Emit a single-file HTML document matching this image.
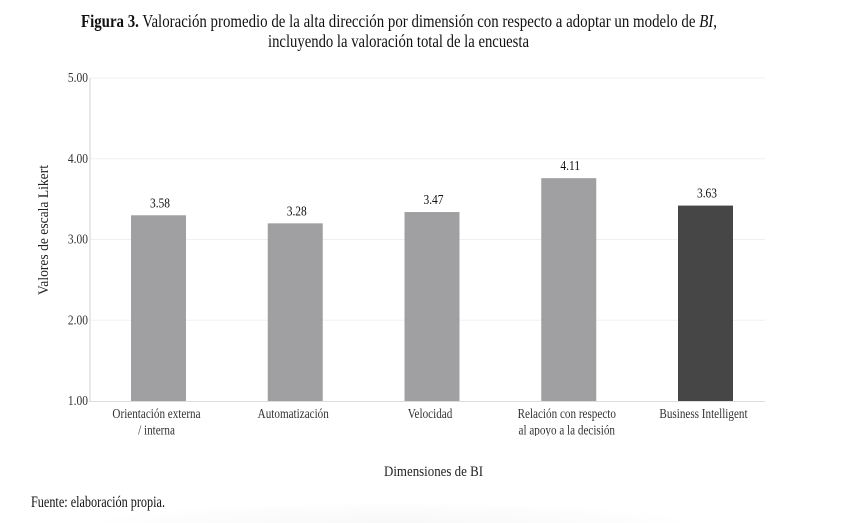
<!DOCTYPE html>
<html lang="es">
<head>
<meta charset="utf-8">
<title>Figura 3</title>
<style>
html,body{margin:0;padding:0;background:#fff;width:859px;height:523px;overflow:hidden}
svg{display:block}
text{font-family:"Liberation Serif",serif;fill:#222}
</style>
</head>
<body>
<svg id="chart" width="859" height="523" viewBox="0 0 859 523" xmlns="http://www.w3.org/2000/svg">
  <defs>
    <radialGradient id="shade" gradientUnits="userSpaceOnUse" cx="0" cy="0" r="1" gradientTransform="translate(395 523) scale(300 20)">
      <stop offset="0" stop-color="#f8f8f8"/>
      <stop offset="0.7" stop-color="#fcfcfc"/>
      <stop offset="1" stop-color="#ffffff"/>
    </radialGradient>
    <clipPath id="label-clip"><rect x="0" y="404" width="859" height="32"/></clipPath>
  </defs>
  <rect x="90" y="503" width="610" height="20" fill="url(#shade)"/>
  <text x="81" y="27" font-size="17.5" textLength="636" lengthAdjust="spacingAndGlyphs" style="fill:#111"><tspan font-weight="bold">Figura 3.</tspan> Valoración promedio de la alta dirección por dimensión con respecto a adoptar un modelo de <tspan font-style="italic">BI</tspan>,</text>
  <text x="268" y="47" font-size="17.5" textLength="261" lengthAdjust="spacingAndGlyphs" style="fill:#111">incluyendo la valoración total de la encuesta</text>
  <g id="plot"></g>
  <g id="category-labels" clip-path="url(#label-clip)"></g>
  <text transform="translate(48,295) rotate(-90)" font-size="15" textLength="130" lengthAdjust="spacingAndGlyphs">Valores de escala Likert</text>
  <text x="384" y="476" font-size="15" textLength="99" lengthAdjust="spacingAndGlyphs">Dimensiones de BI</text>
  <text x="31" y="507" font-size="15.5" textLength="134" lengthAdjust="spacingAndGlyphs" style="fill:#111">Fuente: elaboración propia.</text>
</svg>
<script>
const categories = [
  ["Orientación externa", "/ interna"],
  ["Automatización"],
  ["Velocidad"],
  ["Relación con respecto", "al apoyo a la decisión"],
  ["Business Intelligent"]
];
const barValues = [3.30, 3.20, 3.34, 3.76, 3.42];
const printedValues = ["3.58", "3.28", "3.47", "4.11", "3.63"];
const highlighted = [false, false, false, false, true];
const yTicks = [1, 2, 3, 4, 5];
const yTickLabels = ["1.00", "2.00", "3.00", "4.00", "5.00"];

const NS = "http://www.w3.org/2000/svg";
const plot = document.getElementById("plot");
const catGroup = document.getElementById("category-labels");
const AX = { left: 90, right: 765, y1: 401, y5: 78, first: 158.5, step: 136.75, barW: 55 };

function yScale(v) {
  return AX.y1 - (v - 1) * (AX.y1 - AX.y5) / 4;
}
function xScale(i) {
  return AX.first + i * AX.step;
}
function shape(tag, attrs, parent) {
  const el = document.createElementNS(NS, tag);
  for (const k in attrs) el.setAttribute(k, attrs[k]);
  (parent || plot).appendChild(el);
  return el;
}
function label(str, cx, y, size, anchor, color, parent) {
  const el = shape("text", {
    transform: "translate(" + cx + "," + y + ") scale(0.82,1)",
    "font-size": size,
    "text-anchor": anchor
  }, parent);
  el.textContent = str;
  if (color) el.style.fill = color;
  return el;
}

yTicks.forEach(function (t, i) {
  const y = yScale(t);
  if (t !== 1) {
    const grid = shape("line", { x1: AX.left, x2: AX.right, y1: y, y2: y, stroke: "#f0f0f0", "stroke-width": 1 });
    
    
  }
  const tick = label(yTickLabels[i], 88, y + 4, 14, "end", "#333");
  
  
});

const yAxis = shape("line", { x1: AX.left, x2: AX.left, y1: AX.y5, y2: AX.y1 + 1, stroke: "#e0e0e0", "stroke-width": 1.5 });



barValues.forEach(function (v, i) {
  const top = yScale(v);
  const bar = shape("rect", {
    x: xScale(i) - AX.barW / 2,
    y: top,
    width: AX.barW,
    height: AX.y1 - top,
    fill: highlighted[i] ? "#464646" : "#a0a0a2"
  });
  
  

  const value = label(printedValues[i], xScale(i) + 1.5, top - 8, 14, "middle", "#111");
  
  

  categories[i].forEach(function (line, j) {
    const cat = label(line, xScale(i) - 2, 418 + j * 16.5, 13.6, "middle", "#333", catGroup);
    
    
  });
});

const xAxis = shape("line", { x1: AX.left, x2: AX.right, y1: AX.y1 + 0.5, y2: AX.y1 + 0.5, stroke: "#dcdcdc", "stroke-width": 1 });


</script>
</body>
</html>
